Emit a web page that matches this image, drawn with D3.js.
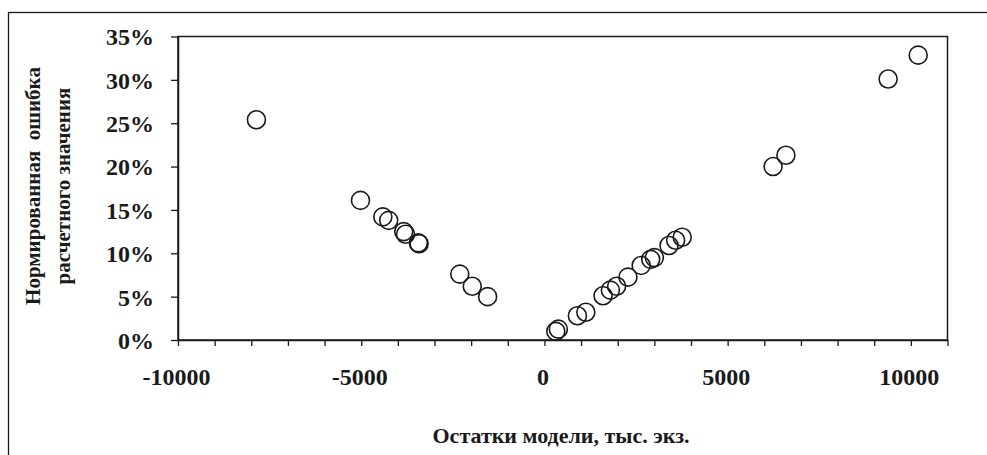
<!DOCTYPE html>
<html>
<head>
<meta charset="utf-8">
<script src="https://cdn.jsdelivr.net/npm/d3@7"></script>
<style>
    html, body { margin: 0; padding: 0; background: #fff; overflow: hidden; }
    svg { display: block; }
    text { font-family: "Liberation Serif", "Times New Roman", serif; font-weight: bold; fill: #1a1a1a; white-space: pre; }
</style>
</head>
<body>
<div id="chart"></div>
<script>
// residuals (тыс. экз.) vs normalized error of the estimate (%)
const residuals = [
    -7860, -5020, -4410, -4250, -3840, -3790, -3440, -3420, -2310, -1970, -1550,
    310, 380, 900, 1130, 1600, 1800, 1970, 2280, 2640, 2900, 3000, 3400, 3580, 3760,
    6240, 6590, 9380, 10200
];
const errors = [
    25.4, 16.1, 14.2, 13.8, 12.5, 12.2, 11.2, 11.1, 7.6, 6.2, 5.0,
    1.0, 1.25, 2.8, 3.2, 5.1, 5.75, 6.2, 7.25, 8.6, 9.3, 9.5, 10.9, 11.5, 11.85,
    20.0, 21.3, 30.1, 32.85
];
const xLabelTicks = [-10000, -5000, 0, 5000, 10000];
const yTicks = [0, 5, 10, 15, 20, 25, 30, 35];
const xTitle = 'Остатки модели, тыс. экз.';
const yTitle = ['Нормированная  ошибка', 'расчетного значения'];

(function () {
    const W = 987, H = 455;
    const plot = { left: 178, top: 36.5, right: 947.5, bottom: 340 };
    const ink = '#1a1a1a';

    const svg = d3.select('#chart').append('svg').attr('width', W).attr('height', H);

    // outer chart frame (runs off the right and bottom edges)
    svg.append('rect')
        .attr('x', 8.5).attr('y', 12.5).attr('width', 1100).attr('height', 600)
        .attr('fill', 'none').attr('stroke', ink).attr('stroke-width', 1.3);

    const x = d3.scaleLinear().domain([-10000, 11000]).range([plot.left, plot.right]);
    const y = d3.scaleLinear().domain([0, 35]).range([plot.bottom, plot.top]);

    // plot area border
    svg.append('rect')
        .attr('x', plot.left).attr('y', plot.top)
        .attr('width', plot.right - plot.left).attr('height', plot.bottom - plot.top)
        .attr('fill', 'none').attr('stroke', ink).attr('stroke-width', 1.5);

    // x axis: minor ticks every 1000, labels every 5000
    const xAxis = d3.axisBottom(x)
        .tickValues(d3.range(-10000, 11001, 1000))
        .tickSize(6).tickSizeOuter(0)
        .tickFormat(d => xLabelTicks.includes(d) ? String(d) : '');
    const gx = svg.append('g').attr('transform', `translate(0,${plot.bottom})`).call(xAxis);
    gx.select('.domain').attr('stroke', ink).attr('stroke-width', 1.5);
    gx.selectAll('.tick line').attr('stroke', ink).attr('stroke-width', 1.3);
    gx.selectAll('.tick text')
        .attr('y', 45).attr('dy', 0).attr('x', -2)
        .style('font-size', '24px').style('font-family', '"Liberation Serif", serif').style('font-weight', 'bold')
        .attr('fill', ink);

    // y axis
    const yAxis = d3.axisLeft(y).tickValues(yTicks).tickSize(7).tickSizeOuter(0).tickFormat(d => d + '%');
    const gy = svg.append('g').attr('transform', `translate(${plot.left},0)`).call(yAxis);
    gy.select('.domain').attr('stroke', ink).attr('stroke-width', 1.5);
    gy.selectAll('.tick line').attr('stroke', ink).attr('stroke-width', 1.3);
    gy.selectAll('.tick text')
        .attr('x', -24).attr('dy', '0.35em')
        .style('font-size', '24px').style('font-family', '"Liberation Serif", serif').style('font-weight', 'bold')
        .attr('fill', ink);

    // points
    const pts = residuals.map((r, i) => ({ r: r, e: errors[i] }));
    svg.append('g').selectAll('circle').data(pts).enter().append('circle')
        .attr('cx', d => x(d.r))
        .attr('cy', d => y(d.e))
        .attr('r', 9)
        .attr('fill', 'none')
        .attr('stroke', ink)
        .attr('stroke-width', 1.6);

    // titles
    svg.append('text')
        .attr('x', 561).attr('y', 443)
        .attr('text-anchor', 'middle')
        .style('font-size', '22px')
        .text(xTitle);

    const yt = svg.append('g').attr('transform', 'translate(0,186) rotate(-90)');
    yTitle.forEach((line, i) => {
        yt.append('text')
            .attr('x', 0).attr('y', 40 + i * 30)
            .attr('text-anchor', 'middle')
            .style('font-size', '21px')
            .text(line);
    });
})();
</script>
</body>
</html>
